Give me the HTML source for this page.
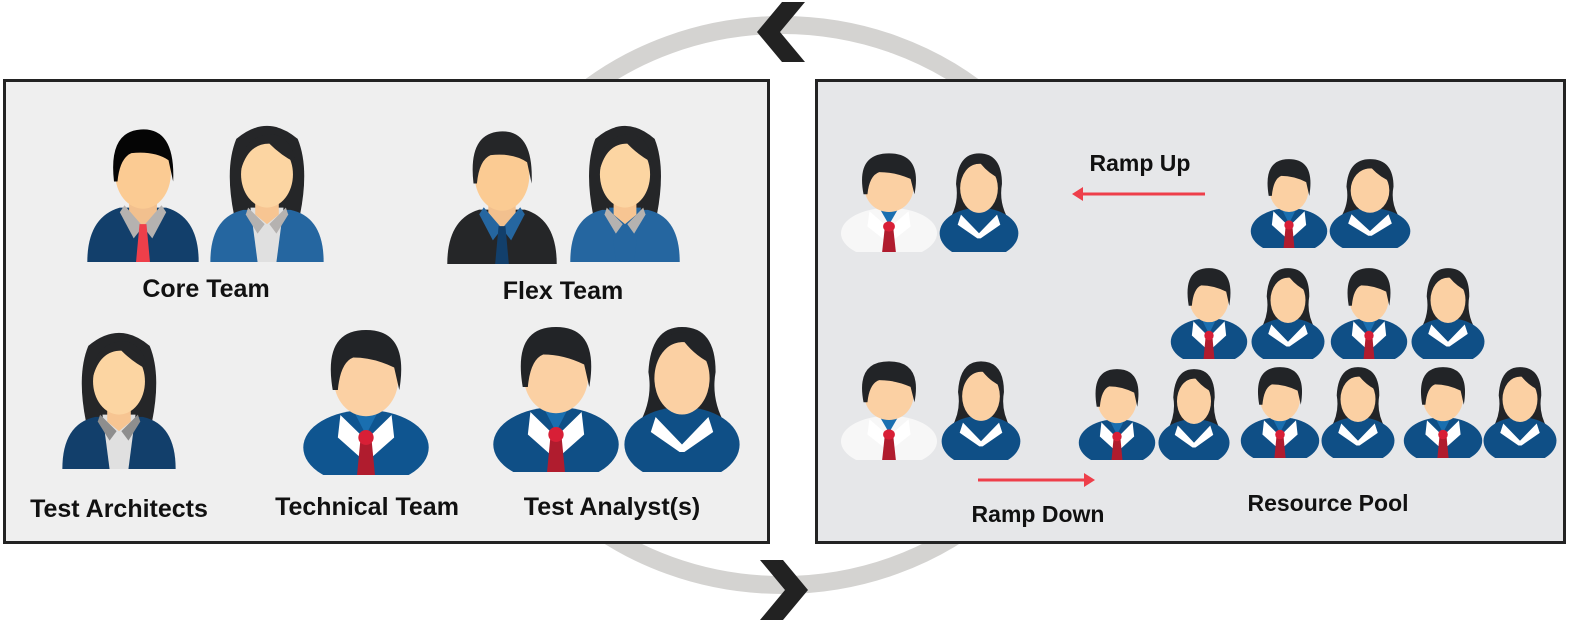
<!DOCTYPE html>
<html><head><meta charset="utf-8"><style>
html,body{margin:0;padding:0;background:#fff;overflow:hidden;}
svg{display:block;}
text{font-family:"Liberation Sans",sans-serif;font-weight:bold;fill:#111;}
</style></head><body>
<svg width="1596" height="633" viewBox="0 0 1596 633" xmlns="http://www.w3.org/2000/svg">
<defs>
<symbol id="man" viewBox="0 0 100 120" preserveAspectRatio="none">
  <path d="M2 120 Q2 82 30 74 L70 74 Q98 82 98 120 Z" style="fill:var(--b)"/>
  <path d="M38 70 L62 70 L62 82 L50 92 L38 82 Z" fill="#f2c08e"/>
  <path d="M34 72 L50 90 L42 100 L30 78 Z" style="fill:var(--c)"/>
  <path d="M66 72 L50 90 L58 100 L70 78 Z" style="fill:var(--c)"/>
  <path d="M47 88 L53 88 L56 120 L44 120 Z" style="fill:var(--t)"/>
  <ellipse cx="50" cy="45" rx="24" ry="30" fill="#fbcb93"/>
  <path d="M25 52 Q20 10 48 8 Q78 6 76 52 L72 34 Q60 26 40 28 Q30 32 28 52 Z" style="fill:var(--h)"/>
</symbol>
<symbol id="woman" viewBox="0 0 100 120" preserveAspectRatio="none">
  <path d="M22 80 Q14 40 24 16 Q50 -6 76 16 Q86 40 78 80 Z" style="fill:var(--h)"/>
  <path d="M2 120 Q2 82 30 76 L70 76 Q98 82 98 120 Z" style="fill:var(--b)"/>
  <path d="M36 74 L64 74 L58 120 L42 120 Z" style="fill:var(--s)"/>
  <path d="M40 70 L60 70 L60 80 L50 88 L40 80 Z" fill="#f7c592"/>
  <path d="M34 74 L48 88 L42 96 L32 80 Z" style="fill:var(--c)"/>
  <path d="M66 74 L52 88 L58 96 L68 80 Z" style="fill:var(--c)"/>
  <ellipse cx="50" cy="46" rx="22" ry="28" fill="#fcd5a2"/>
  <path d="M28 42 Q34 20 52 20 Q62 30 74 36 Q72 16 56 12 Q28 12 28 42 Z" style="fill:var(--h)"/>
</symbol>
<symbol id="pman" viewBox="0 0 100 120" preserveAspectRatio="none">
  <ellipse cx="50" cy="98" rx="49" ry="30" style="fill:var(--b)"/>
  <path d="M30 72 L50 92 L70 72 L72 90 L50 110 L28 90 Z" fill="#fff"/>
  <path d="M40 68 L60 68 L50 88 Z" fill="#1a6fb0"/>
  <path d="M46 88 L54 88 L57 120 L43 120 Z" fill="#b01c2e"/>
  <circle cx="50" cy="90" r="6" fill="#d81f36"/>
  <ellipse cx="50" cy="44" rx="25" ry="29" fill="#fbd0a3"/>
  <path d="M24 52 Q16 4 50 4 Q84 4 76 52 L72 34 Q56 26 40 26 Q30 30 28 52 Z" fill="#222427"/>
</symbol>
<symbol id="pwoman" viewBox="0 0 100 120" preserveAspectRatio="none">
  <path d="M14 82 Q26 62 22 40 Q24 4 50 4 Q78 4 78 40 Q74 62 86 82 Z" fill="#222427"/>
  <ellipse cx="50" cy="98" rx="48" ry="30" style="fill:var(--b)"/>
  <path d="M28 76 L50 98 L72 76 L76 88 L52 104 L48 104 L24 88 Z" fill="#fff"/>
  <ellipse cx="50" cy="45" rx="23" ry="29" fill="#fbd0a3"/>
  <path d="M26 44 Q30 16 52 16 Q62 28 76 34 Q72 8 50 8 Q26 10 26 44 Z" fill="#222427"/>
</symbol>
</defs>

<ellipse cx="782" cy="305" rx="306" ry="280" fill="none" stroke="#d4d3d1" stroke-width="18"/>
<path d="M805 2 L780 32 L805 62 L782 62 L757 32 L782 2 Z" fill="#222"/>
<path d="M760 560 L785 590 L760 620 L783 620 L808 590 L783 560 Z" fill="#222"/>

<rect x="4.5" y="80.5" width="764" height="462" fill="#efefef" stroke="#232323" stroke-width="3"/>
<rect x="816.5" y="80.5" width="748" height="462" fill="#e6e7e9" stroke="#232323" stroke-width="3"/>

<!-- left -->
<use href="#man" x="85" y="120" width="116" height="142" style="--b:#123f6b;--c:#b5b2b0;--t:#ee3f4a;--h:#050505"/>
<use href="#woman" x="208" y="120" width="118" height="142" style="--b:#2566a0;--c:#b5b2b0;--s:#e0e0e0;--h:#252628"/>
<use href="#man" x="445" y="122" width="114" height="142" style="--b:#252628;--c:#2566a0;--t:#123f6b;--h:#252628"/>
<use href="#woman" x="568" y="120" width="114" height="142" style="--b:#2566a0;--c:#b5b2b0;--s:#2566a0;--h:#252628"/>
<text x="206" y="297" font-size="25" text-anchor="middle">Core Team</text>
<text x="563" y="299" font-size="25" text-anchor="middle">Flex Team</text>

<use href="#woman" x="60" y="327" width="118" height="142" style="--b:#123f6b;--c:#8e8e8e;--s:#e0e0e0;--h:#252628"/>
<use href="#pman" x="302" y="325" width="128" height="150" style="--b:#0f5590"/>
<use href="#pman" x="492" y="322" width="128" height="150" style="--b:#0f4f86"/>
<use href="#pwoman" x="622" y="322" width="120" height="150" style="--b:#0f4f86"/>
<text x="119" y="517" font-size="25" text-anchor="middle">Test Architects</text>
<text x="367" y="515" font-size="25" text-anchor="middle">Technical Team</text>
<text x="612" y="515" font-size="25" text-anchor="middle">Test Analyst(s)</text>

<!-- right -->
<use href="#pman" x="840" y="150" width="98" height="102" style="--b:#f7f7f7"/>
<use href="#pwoman" x="938" y="150" width="82" height="102" style="--b:#0f4f86"/>
<text x="1140" y="171" font-size="23" text-anchor="middle">Ramp Up</text>
<line x1="1205" y1="194" x2="1080" y2="194" stroke="#ee3f4a" stroke-width="3"/>
<path d="M1072 194 L1083 187 L1083 201 Z" fill="#ee3f4a"/>
<use href="#pman" x="1250" y="156" width="78" height="92" style="--b:#0f4f86"/>
<use href="#pwoman" x="1328" y="156" width="84" height="92" style="--b:#0f4f86"/>

<use href="#pman" x="1170" y="265" width="78" height="94" style="--b:#0f4f86"/>
<use href="#pwoman" x="1250" y="265" width="76" height="94" style="--b:#0f4f86"/>
<use href="#pman" x="1330" y="265" width="78" height="94" style="--b:#0f4f86"/>
<use href="#pwoman" x="1410" y="265" width="76" height="94" style="--b:#0f4f86"/>

<use href="#pman" x="840" y="358" width="98" height="102" style="--b:#f7f7f7"/>
<use href="#pwoman" x="940" y="358" width="82" height="102" style="--b:#0f4f86"/>
<use href="#pman" x="1078" y="366" width="78" height="94" style="--b:#0f4f86"/>
<use href="#pwoman" x="1157" y="366" width="74" height="94" style="--b:#0f4f86"/>
<use href="#pman" x="1240" y="364" width="80" height="94" style="--b:#0f4f86"/>
<use href="#pwoman" x="1320" y="364" width="76" height="94" style="--b:#0f4f86"/>
<use href="#pman" x="1403" y="364" width="80" height="94" style="--b:#0f4f86"/>
<use href="#pwoman" x="1482" y="364" width="76" height="94" style="--b:#0f4f86"/>

<line x1="978" y1="480" x2="1086" y2="480" stroke="#ee3f4a" stroke-width="3"/>
<path d="M1095 480 L1084 473 L1084 487 Z" fill="#ee3f4a"/>
<text x="1038" y="522" font-size="23" text-anchor="middle">Ramp Down</text>
<text x="1328" y="511" font-size="23" text-anchor="middle">Resource Pool</text>
</svg>
</body></html>
